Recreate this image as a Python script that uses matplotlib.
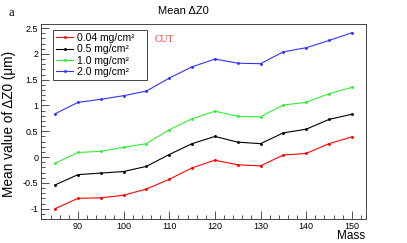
import numpy as np
import matplotlib
matplotlib.use("Agg")
import matplotlib.pyplot as plt
from matplotlib.ticker import MultipleLocator

plt.rcParams['font.family'] = ['Liberation Sans', 'DejaVu Sans']

# data
mass = [85, 90, 95, 100, 105, 110, 115, 120, 125, 130, 135, 140, 145, 150]
dz_004 = [-1.00, -0.80, -0.79, -0.74, -0.62, -0.43, -0.21, -0.06, -0.15, -0.17, 0.04, 0.07, 0.26, 0.39]
dz_05 = [-0.54, -0.34, -0.31, -0.28, -0.18, 0.05, 0.26, 0.40, 0.29, 0.26, 0.47, 0.54, 0.73, 0.83]
dz_10 = [-0.12, 0.09, 0.11, 0.19, 0.26, 0.53, 0.74, 0.89, 0.79, 0.78, 1.01, 1.06, 1.23, 1.35]
dz_20 = [0.84, 1.06, 1.12, 1.19, 1.28, 1.53, 1.75, 1.90, 1.82, 1.81, 2.04, 2.12, 2.26, 2.41]
labels = ["0.04 mg/cm²", "0.5 mg/cm²", "1.0 mg/cm²", "2.0 mg/cm²"]
colors = ["#ff0000", "#000000", "#33ee33", "#3333ff"]

fig = plt.figure(figsize=(4.07, 2.43), dpi=100)
ax = fig.add_axes([0.1007, 0.0988, 0.7985, 0.8004])

for ys, lab, c in zip([dz_004, dz_05, dz_10, dz_20], labels, colors):
    ax.plot(mass, ys, color=c, lw=0.8, marker='o', ms=1.1, mec=c, mfc=c, label=lab)

ax.set_xlim(81.9, 153.1)
ax.set_ylim(-1.2, 2.57)

ax.xaxis.set_major_locator(MultipleLocator(10))
ax.xaxis.set_minor_locator(MultipleLocator(2))
ax.yaxis.set_major_locator(MultipleLocator(0.5))
ax.yaxis.set_minor_locator(MultipleLocator(0.1))
ax.tick_params(which='both', direction='in', top=False, right=False, labelsize=6.5, colors='#333333', labelcolor='black', pad=2)
ax.tick_params(which='major', length=6, width=0.6)
ax.tick_params(which='minor', length=3, width=0.6)
ax.set_xticks([90, 100, 110, 120, 130, 140, 150])
ax.set_yticks([-1, -0.5, 0, 0.5, 1, 1.5, 2, 2.5])
ax.set_yticklabels(['-1', '-0.5', '0', '0.5', '1', '1.5', '2', '2.5'])
for s in ax.spines.values():
    s.set_linewidth(0.7)
    s.set_color('#444444')

fig.text(0.022, 0.49, "Mean value of ΔZ0 (μm)", rotation=90, ha='center', va='center', fontsize=9.8)
fig.text(0.897, 0.03, "Mass", ha='right', va='center', fontsize=8.5)
fig.text(0.45, 0.955, "Mean ΔZ0", ha='center', va='center', fontsize=8)
fig.text(0.02, 0.945, "a", ha='left', va='center', fontsize=9, family='Liberation Serif')
ax.text(0.35, 0.925, "CUT", transform=ax.transAxes, color='#ff3333', fontsize=7,
        family='Liberation Serif', ha='left', va='center')

leg = ax.legend(loc='upper left', bbox_to_anchor=(0.038, 0.715, 0.287, 0.257), mode='expand',
                fontsize=7.5, frameon=True, fancybox=False, edgecolor='#444444', framealpha=1,
                borderpad=0.3, labelspacing=0.12, handlelength=1.6, handletextpad=0.35,
                borderaxespad=0)
leg.get_frame().set_linewidth(0.7)

fig.savefig("out.png", dpi=100)
